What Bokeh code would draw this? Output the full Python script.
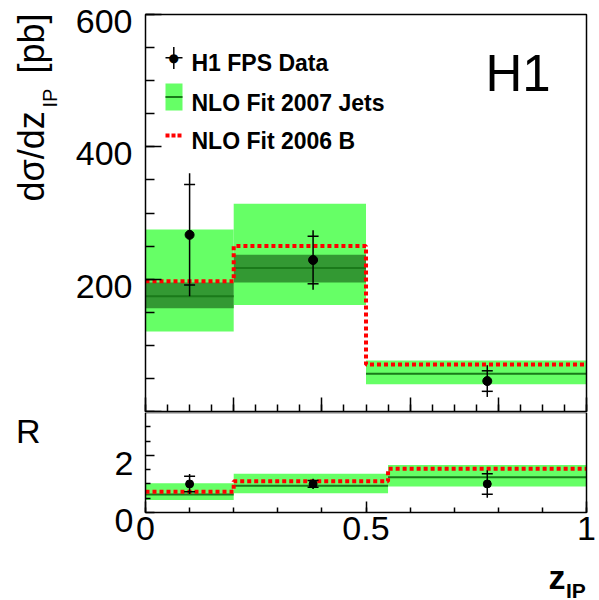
import numpy as np
from math import pi
from bokeh.plotting import figure
from bokeh.layouts import column
from bokeh.models import (Range1d, FixedTicker, Label, BoxAnnotation, Arrow)
from bokeh.embed import file_html
from bokeh.resources import INLINE

# ---------------- data: upper panel (dsigma/dz_IP in pb) ----------------
bin_edges = [0.0, 0.2, 0.5, 1.0]
nlo_central = [174, 217, 57]
nlo_lo = [121, 161, 41]
nlo_hi = [275, 314, 77]
nlo_scale_lo = [156, 195, 57]
nlo_scale_hi = [195, 237, 57]
fit2006b = [197, 250, 71]
data_x = [0.10, 0.38, 0.775]
data_y = [267, 229, 46]
data_stat = [76, 36, 15.5]
data_tot = [93, 45, 24]

# ---------------- data: lower panel (ratio R) ----------------
r_edges = [0.0, 0.2, 0.55, 1.0]
r_central = [0.63, 0.94, 1.23]
r_lo = [0.44, 0.67, 0.91]
r_hi = [1.02, 1.36, 1.66]
r_fit2006b = [0.73, 1.09, 1.53]
r_x = [0.10, 0.38, 0.775]
r_y = [1.0, 1.0, 1.0]
r_stat = [0.27, 0.12, 0.36]
r_tot = [0.35, 0.18, 0.48]

top_ymax = 600
top_yticks = [0, 200, 400, 600]
top_ylabels = ["", "200", "400", "600"]
bot_ymax = 3.5
bot_yticks = [0, 2]
bot_ylabels = ["0", "2"]
x_ticks_bot = [0, 0.5, 1.0]
x_labels_bot = ["0", "0.5", "1"]

FONT = "Liberation Sans"
LIGHT = "#66ff66"
DARK = "#339933"
CLINE = "#1a7a1a"
RED = "#ff0000"

# ---------------- layout (pixels) ----------------
W = 599
H_TOP, H_BOT = 412, 188
FX0, FX1 = 145, 586          # frame left / right
FT, FB = 14, 411             # top panel frame top / bottom (page px)
BT, BB = 412, 512            # bottom panel frame top / bottom (page px)

ppx = (FX1 - FX0)
xr = (-FX0 / ppx, (W - FX0) / ppx)
pt = (FB - FT) / top_ymax
top_yr = (-(H_TOP - FB) / pt, top_ymax + FT / pt)
pb = (BB - BT) / bot_ymax
bot_yr = (-(H_TOP + H_BOT - BB) / pb, bot_ymax + (BT - H_TOP) / pb)


def make_fig(h, yr, ymax, xt, xminor, xtin, xmin_in, yt, yminor, ytin, ymin_in, xlabels):
    p = figure(width=W, height=h, x_range=Range1d(*xr), y_range=Range1d(*yr),
               output_backend="svg", toolbar_location=None,
               min_border_left=0, min_border_right=0, min_border_top=0, min_border_bottom=0)
    p.grid.visible = False
    p.outline_line_color = None
    p.background_fill_color = "white"
    p.border_fill_color = "white"
    xa, ya = p.xaxis[0], p.yaxis[0]
    xa.fixed_location = 0
    ya.fixed_location = 0
    xa.bounds = (0, 1)
    ya.bounds = (0, ymax)
    xa.ticker = FixedTicker(ticks=xt, minor_ticks=xminor)
    ya.ticker = FixedTicker(ticks=yt, minor_ticks=yminor)
    xa.major_tick_in, xa.minor_tick_in = xtin, xmin_in
    ya.major_tick_in, ya.minor_tick_in = ytin, ymin_in
    for ax in (xa, ya):
        ax.axis_line_color = None
        ax.major_tick_out = 0
        ax.minor_tick_out = 0
        ax.major_tick_line_width = 1.5
        ax.minor_tick_line_width = 1.5
        ax.major_label_text_font = FONT
    ya.major_label_overrides = {t: "" for t in yt}
    if xlabels is None:
        xa.major_label_overrides = {t: "" for t in xt}
    else:
        xa.major_label_overrides = dict(zip(xt, xlabels))
        xa.major_label_text_font_size = "34px"
        xa.major_label_text_color = "black"
        xa.major_label_standoff = 4
    p.add_layout(BoxAnnotation(left=0, right=1, bottom=0, top=ymax, fill_alpha=0,
                               line_color="black", line_width=1.5, line_alpha=1))
    return p


def draw_panel(p, edges, central, lo, hi, slo, shi, red, dx, dy, stat, tot, msize):
    e = np.array(edges, dtype=float)
    p.quad(left=e[:-1], right=e[1:], bottom=lo, top=hi, fill_color=LIGHT, line_color=None)
    if slo is not None:
        p.quad(left=e[:-1], right=e[1:], bottom=slo, top=shi, fill_color=DARK, line_color=None)
    p.segment(x0=e[:-1], x1=e[1:], y0=central, y1=central, line_color=CLINE, line_width=2)
    ry = list(red) + [red[-1]]
    p.step(x=e, y=ry, mode="after", line_color=RED, line_width=4, line_dash="4 3")
    dx = np.array(dx); dy = np.array(dy); st = np.array(stat); tt = np.array(tot)
    p.segment(x0=dx, x1=dx, y0=dy - tt, y1=dy + tt, line_color="black", line_width=1.5)
    p.scatter(np.concatenate([dx, dx]), np.concatenate([dy - st, dy + st]), marker="dash",
              size=11, line_color="black", line_width=1.5)
    p.scatter(dx, dy, size=msize, fill_color="black", line_color="black")


def lab(p, **kw):
    kw.setdefault("text_font", FONT)
    kw.setdefault("x_units", "screen")
    kw.setdefault("y_units", "screen")
    kw.setdefault("text_baseline", "middle")
    kw.setdefault("text_color", "black")
    p.add_layout(Label(**kw))


# ---------------- top figure ----------------
p1 = make_fig(H_TOP, top_yr, top_ymax, [0, 0.2, 0.4, 0.6, 0.8, 1.0],
              [i * 0.05 for i in range(21)], 14, 7,
              top_yticks, list(range(0, 601, 50)), 16, 9, None)
draw_panel(p1, bin_edges, nlo_central, nlo_lo, nlo_hi, nlo_scale_lo, nlo_scale_hi,
           fit2006b, data_x, data_y, data_stat, data_tot, 9)

def sy1(y): return H_TOP - y

for v, t in zip(top_yticks, top_ylabels):
    if t:
        lab(p1, x=132, y=v, y_units="data", y_offset=-7, text=t, text_align="right",
            text_font_size="34px")

# y axis title (rotated)
lab(p1, x=30.5, y=sy1(201), angle=pi / 2, text="dσ/dz", text_align="left",
    text_font_size="36px")
lab(p1, x=49.5, y=sy1(107), angle=pi / 2, text="IP", text_align="left",
    text_font_size="20px")
lab(p1, x=30.5, y=sy1(73), angle=pi / 2, text="[pb]", text_align="left",
    text_font_size="36px")

# H1 logo text
lab(p1, x=485, y=sy1(73), text="H1", text_align="left", text_font_size="51px")

# legend
def seg(p, x0, y0, x1, y1, sy, **kw):
    p.add_layout(Arrow(x_start=x0, y_start=sy(y0), x_end=x1, y_end=sy(y1),
                       start_units="screen", end_units="screen", end=None, **kw))

seg(p1, 173.3, 46.5, 173.3, 68.5, sy1, line_color="black", line_width=1.5)
seg(p1, 165, 57.3, 182, 57.3, sy1, line_color="black", line_width=1.5)
lab(p1, x=173.3, y=sy1(57.3), text="●", text_align="center",
    text_font="DejaVu Sans", text_font_size="12px")
p1.add_layout(BoxAnnotation(left=165, right=182, bottom=sy1(110), top=sy1(83),
                            left_units="screen", right_units="screen",
                            bottom_units="screen", top_units="screen",
                            fill_color=LIGHT, fill_alpha=1, line_color=None))
seg(p1, 165, 96.5, 182, 96.5, sy1, line_color=CLINE, line_width=2)
seg(p1, 165, 135, 182, 135, sy1, line_color=RED, line_width=4, line_dash="4 2")

for yc, t in [(62, "H1 FPS Data"), (102, "NLO Fit 2007 Jets"), (140.3, "NLO Fit 2006 B")]:
    lab(p1, x=191, y=sy1(yc), text=t, text_align="left",
        text_font_size="23px", text_font_style="bold")

# ---------------- bottom figure ----------------
p2 = make_fig(H_BOT, bot_yr, bot_ymax, x_ticks_bot, [i * 0.1 for i in range(11)], 11, 5,
              bot_yticks, [0.5, 1, 1.5, 2.5, 3], 9, 5, x_labels_bot)
draw_panel(p2, r_edges, r_central, r_lo, r_hi, None, None, r_fit2006b,
           r_x, r_y, r_stat, r_tot, 8)

def sy2(y): return H_TOP + H_BOT - y

for v, t in zip(bot_yticks, bot_ylabels):
    lab(p2, x=133, y=v, y_units="data", y_offset=-8, text=t, text_align="right",
        text_font_size="34px")

lab(p2, x=15.6, y=sy2(430.5), text="R", text_align="left", text_font_size="34px")
lab(p2, x=548, y=sy2(576.2), text="z", text_align="left", text_font_size="34px",
    text_font_style="bold")
lab(p2, x=565.5, y=sy2(589.5), text="IP", text_align="left", text_font_size="21px",
    text_font_style="bold")

layout = column(p1, p2)
open("out.html", "w").write(file_html(layout, INLINE))
